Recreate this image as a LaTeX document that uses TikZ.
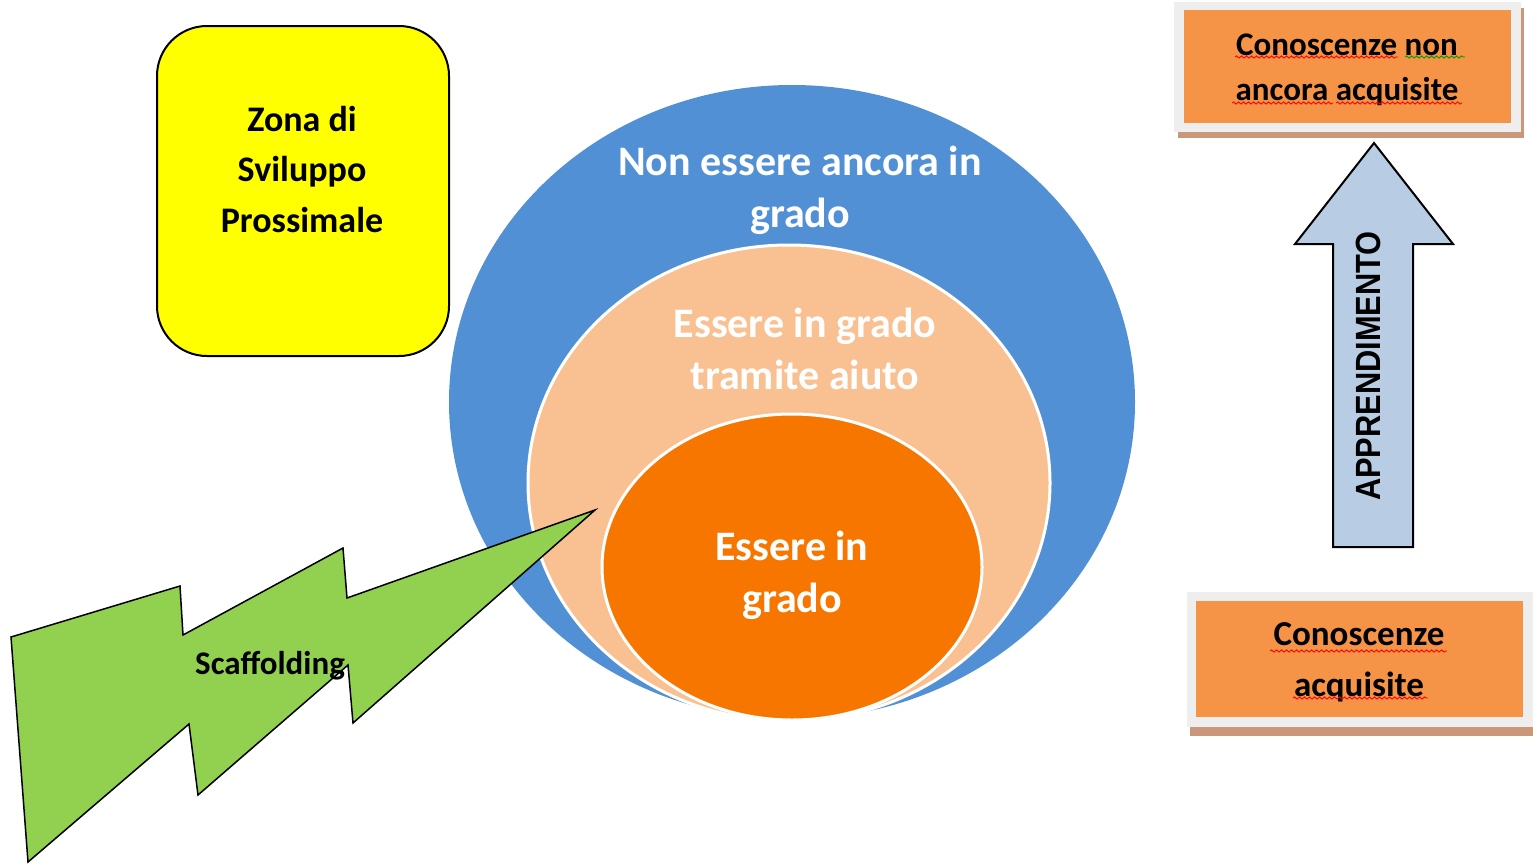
\documentclass[tikz,border=0pt]{standalone}
\usepackage{fontspec}
\setmainfont{Carlito}
\newfontfamily\arialfont{Liberation Sans}
\usetikzlibrary{decorations.pathmorphing}
\definecolor{blueC}{HTML}{5290D6}
\definecolor{peachC}{HTML}{F9C192}
\definecolor{orangeC}{HTML}{F77600}
\definecolor{boxC}{HTML}{F59447}
\definecolor{frameC}{HTML}{EEEEEE}
\definecolor{shadowC}{HTML}{C9977A}
\definecolor{greenC}{HTML}{92D050}
\definecolor{arrowC}{HTML}{B8CCE4}
\definecolor{yellowC}{HTML}{FFFF00}
\begin{document}
\begin{tikzpicture}[x=1pt,y=-1pt,
  whitetxt/.style={text=white, align=center, font=\bfseries\fontsize{42}{52}\selectfont, inner sep=0pt},
  blacktxt/.style={text=black, align=center, inner sep=0pt},
  orangebox/.style={fill=boxC, inner sep=0pt},
  squig/.style={line width=0.9pt, decorate, decoration={snake, amplitude=1.1pt, segment length=5pt}}
]
\useasboundingbox (0,0) rectangle (1533,865);
\fill[white] (0,0) rectangle (1533,865);

% concentric ellipses
\fill[blueC] (792,402) ellipse [x radius=343pt, y radius=317pt];
\draw[white, line width=3pt, fill=peachC] (789,483) ellipse [x radius=261pt, y radius=238pt];
\draw[white, line width=3pt, fill=orangeC] (792,567) ellipse [x radius=190pt, y radius=153pt];

\node[whitetxt] (outer) at (800,190) {Non essere ancora in\\grado};
\node[whitetxt] (middle) at (805,349) {Essere in grado\\tramite aiuto};
\node[whitetxt] (inner) at (792,575) {Essere in\\grado};

% yellow box
\node[draw=black, line width=2pt, fill=yellowC, rounded corners=50pt,
      minimum width=292pt, minimum height=330pt, inner sep=0pt] (zone) at (303,191) {};
\node[blacktxt, font=\bfseries\fontsize{36}{50.5}\selectfont] (zonetxt) at (302,169) {Zona di\\Sviluppo\\Prossimale};

% lightning
\draw[black, line width=1.5pt, fill=greenC]
  (11,637) -- (180,586) -- (183,635) -- (343,548) -- (347,598) -- (595,510)
  -- (353,723) -- (348,665) -- (198,795) -- (189,724) -- (28,862) -- cycle;
\node[blacktxt, font=\bfseries\fontsize{33}{40}\selectfont] (scaf) at (270,666) {Scaffolding};

% top orange box
\fill[shadowC] (1178,8) rectangle (1524,138);
\fill[frameC] (1174,2) rectangle (1521,132);
\node[orangebox, minimum width=327pt, minimum height=113pt] (top) at (1347.5,66.5) {};
\node[blacktxt, font=\bfseries\fontsize{33}{45}\selectfont] (toptxt) at (1347,70) {Conoscenze non\\ancora acquisite};
\draw[red, squig] (1235,57) -- (1398,57);
\draw[green!60!black, squig] (1405,57) -- (1465,57);
\draw[red, squig] (1232,103) -- (1333,103);
\draw[red, squig] (1336,103) -- (1462,103);

% bottom orange box
\fill[shadowC] (1190,598) rectangle (1533,736);
\fill[frameC] (1187,592) rectangle (1533,727);
\node[orangebox, minimum width=327pt, minimum height=116pt] (bottom) at (1359.5,659) {};
\node[blacktxt, font=\bfseries\fontsize{35}{51}\selectfont] (bottomtxt) at (1359,662) {Conoscenze\\acquisite};
\draw[red, squig] (1270,651) -- (1447,651);
\draw[red, squig] (1293,698) -- (1428,698);

% arrow
\draw[black, line width=2pt, fill=arrowC]
  (1374,143) -- (1453,244) -- (1413,244) -- (1413,547) -- (1333,547) -- (1333,244) -- (1295,244) -- cycle;
\node[blacktxt, rotate=90, font=\arialfont\bfseries\fontsize{35}{40}\selectfont] (appr) at (1368,366) {\scalebox{0.88}[1]{APPRENDIMENTO}};
\end{tikzpicture}
\end{document}
